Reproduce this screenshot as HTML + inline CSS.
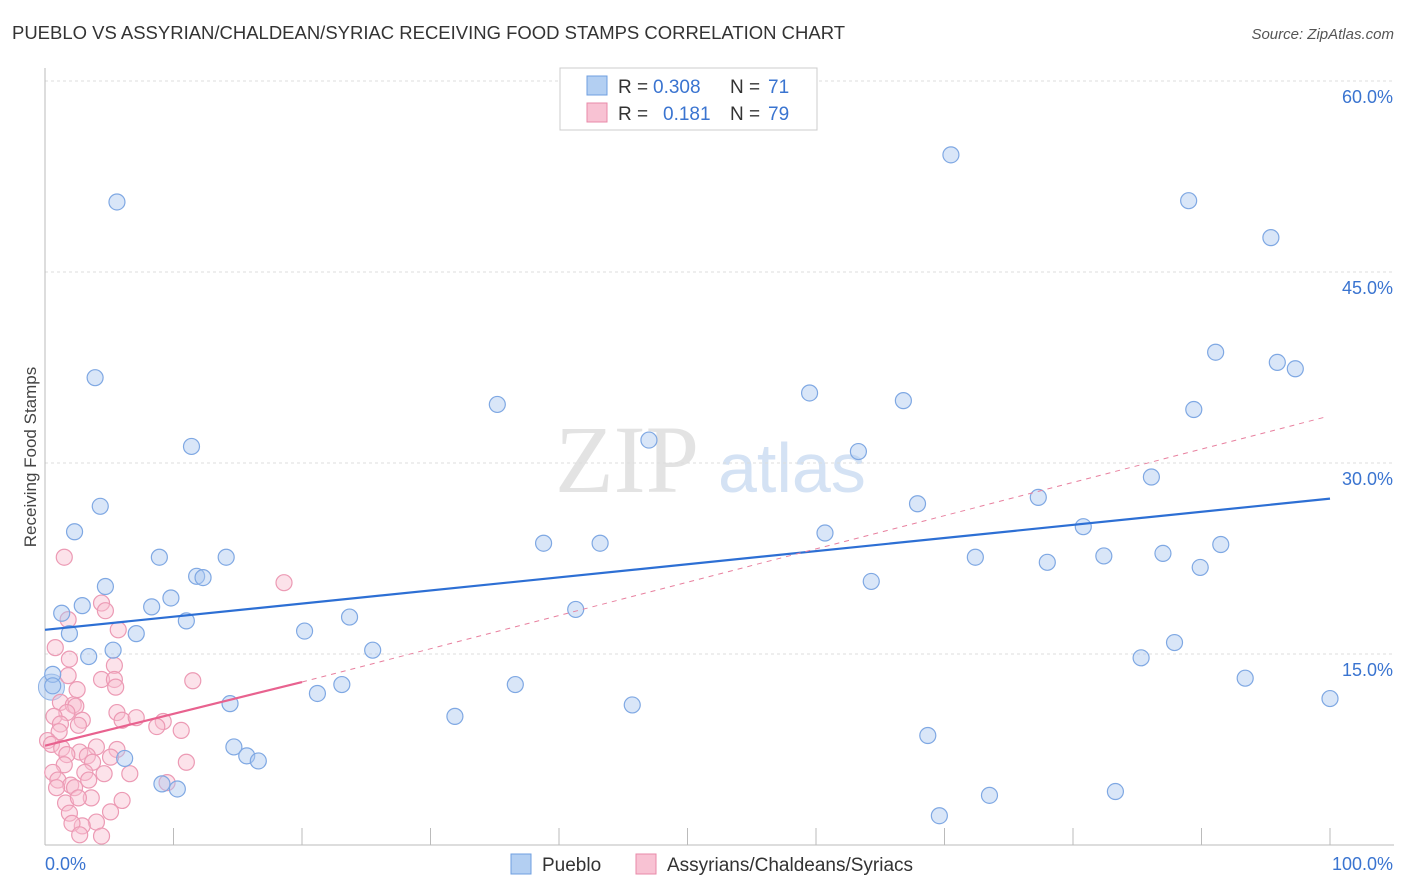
<!DOCTYPE html>
<html><head><meta charset="utf-8">
<style>
body{margin:0;background:#fff;font-family:"Liberation Sans",sans-serif;}
#wrap{position:relative;width:1406px;height:892px;overflow:hidden;}
</style></head>
<body>
<div id="wrap">
<svg id="chart" width="1406" height="892">
<text x="12" y="39" font-size="18" fill="#333" textLength="833" lengthAdjust="spacingAndGlyphs">PUEBLO VS ASSYRIAN/CHALDEAN/SYRIAC RECEIVING FOOD STAMPS CORRELATION CHART</text>
<text x="1394" y="39" font-size="15" fill="#555" font-style="italic" text-anchor="end">Source: ZipAtlas.com</text>
<text x="36" y="457" font-size="17" fill="#444" text-anchor="middle" transform="rotate(-90 36 457)">Receiving Food Stamps</text>
<text x="555" y="492" font-size="96" fill="#e3e3e3" font-family="Liberation Serif,serif">ZIP</text>
<text x="718" y="492" font-size="70" fill="#d4e2f4">atlas</text>
<g id="grid"></g><g id="axes"></g><g id="marks"></g>
<g>
<rect x="560" y="68" width="257" height="62" fill="#fff" stroke="#ccc"/>
<rect x="587" y="76" width="20" height="19" fill="#b3cff2" stroke="#6f9fe0"/>
<text x="618" y="93" font-size="19" fill="#333">R = </text><text x="653" y="93" font-size="19" fill="#3a74d0">0.308</text>
<text x="730" y="93" font-size="19" fill="#333">N = </text><text x="768" y="93" font-size="19" fill="#3a74d0">71</text>
<rect x="587" y="103" width="20" height="19" fill="#f8c2d3" stroke="#e88aa8"/>
<text x="618" y="120" font-size="19" fill="#333">R = </text><text x="663" y="120" font-size="19" fill="#3a74d0">0.181</text>
<text x="730" y="120" font-size="19" fill="#333">N = </text><text x="768" y="120" font-size="19" fill="#3a74d0">79</text>
</g>
<g>
<rect x="511" y="854" width="20" height="20" fill="#b3cff2" stroke="#6f9fe0"/>
<text x="542" y="871" font-size="19" fill="#333">Pueblo</text>
<rect x="636" y="854" width="20" height="20" fill="#f8c2d3" stroke="#e88aa8"/>
<text x="667" y="871" font-size="19" fill="#333">Assyrians/Chaldeans/Syriacs</text>
</g>
</svg>
</div>
<script>
const yTicks=[15,30,45,60];
const yTickLabels=["15.0%","30.0%","45.0%","60.0%"];
const xTicks=[0,10,20,30,40,50,60,70,80,90,100];
const puebloX=[5.6,3.9,11.4,4.3,2.3,8.9,14.1,4.7,11.8,12.3,9.8,8.3,2.9,1.3,11.0,1.9,7.1,3.4,5.3,0.6,0.6,14.4,14.7,15.7,16.6,6.2,9.1,10.3,20.2,23.7,25.5,21.2,23.1,35.2,47.0,38.8,43.2,41.3,36.6,31.9,45.7,70.5,59.5,66.8,63.3,60.7,67.9,64.3,72.4,68.7,69.6,73.5,77.3,78.0,80.8,82.4,83.3,85.3,86.1,87.0,87.9,89.0,89.4,89.9,91.1,91.5,93.4,95.4,95.9,97.3,100];
const puebloY=[50.5,36.7,31.3,26.6,24.6,22.6,22.6,20.3,21.1,21.0,19.4,18.7,18.8,18.2,17.6,16.6,16.6,14.8,15.3,13.4,12.5,11.1,7.7,7.0,6.6,6.8,4.8,4.4,16.8,17.9,15.3,11.9,12.6,34.6,31.8,23.7,23.7,18.5,12.6,10.1,11.0,54.2,35.5,34.9,30.9,24.5,26.8,20.7,22.6,8.6,2.3,3.9,27.3,22.2,25.0,22.7,4.2,14.7,28.9,22.9,15.9,50.6,34.2,21.8,38.7,23.6,13.1,47.7,37.9,37.4,11.5];
const assyrX=[1.5,18.6,4.4,4.7,1.8,5.7,0.8,1.9,5.4,1.8,4.4,5.4,11.5,2.5,5.5,1.2,2.2,2.4,1.7,5.6,0.7,2.9,6.0,7.1,9.2,1.2,2.6,8.7,10.6,1.1,0.2,0.5,1.3,4.0,5.6,2.7,1.7,3.3,5.1,3.7,1.5,11.0,0.6,3.1,4.6,6.6,1.0,3.4,2.0,9.5,2.3,0.9,3.6,1.6,6.0,2.6,5.1,1.9,4.0,2.9,2.1,2.7,4.4];
const assyrY=[22.6,20.6,19.0,18.4,17.7,16.9,15.5,14.6,14.1,13.3,13.0,13.0,12.9,12.2,12.4,11.2,11.0,10.9,10.4,10.4,10.1,9.8,9.8,10.0,9.7,9.5,9.4,9.3,9.0,8.9,8.2,7.9,7.6,7.7,7.5,7.3,7.1,7.0,6.9,6.5,6.3,6.5,5.7,5.7,5.6,5.6,5.1,5.1,4.7,4.9,4.5,4.5,3.7,3.3,3.5,3.7,2.6,2.5,1.8,1.5,1.7,0.8,0.7];
const puebloTrend=[16.9,27.2];
const assyrTrend=[7.8,12.8,33.6];
const NS="http://www.w3.org/2000/svg";
const X=v=>45+v*12.85, Y=v=>845-v*191/15;
function mk(tag,attrs,parent){const e=document.createElementNS(NS,tag);for(const k in attrs)e.setAttribute(k,attrs[k]);parent.appendChild(e);return e;}
const grid=document.getElementById('grid'),axes=document.getElementById('axes'),marks=document.getElementById('marks');
yTicks.forEach((t,i)=>{
 const l=mk('line',{x1:45,x2:1394,y1:Y(t),y2:Y(t),stroke:'#ddd','stroke-dasharray':'3,3'},grid);
 
 
 const tx=mk('text',{x:1393,y:Y(t)+22,'font-size':18,fill:'#3a74d0','text-anchor':'end'},axes);
 tx.textContent=yTickLabels[i];
 
 
});
const xa=mk('line',{x1:45,x2:1394,y1:845,y2:845,stroke:'#bbb'},axes);


const ya=mk('line',{x1:45,x2:45,y1:68,y2:845,stroke:'#bbb'},axes);


xTicks.forEach(t=>{
 const l=mk('line',{x1:X(t),x2:X(t),y1:828,y2:845,stroke:'#bbb'},axes);
 
 
});
const x0=mk('text',{x:45,y:870,'font-size':18,fill:'#3a74d0'},axes);x0.textContent='0.0%';


const x1=mk('text',{x:1393,y:870,'font-size':18,fill:'#3a74d0','text-anchor':'end'},axes);x1.textContent='100.0%';


const big=mk('circle',{cx:X(0.5),cy:Y(12.4),r:13,fill:'rgba(170,200,240,0.5)',stroke:'#8fb3e6'},marks);


assyrX.forEach((v,i)=>{
 const c=mk('circle',{cx:X(v),cy:Y(assyrY[i]),r:8,fill:'rgba(248,190,208,0.45)',stroke:'#ec9ab4','stroke-width':1.2},marks);
 
 
});
puebloX.forEach((v,i)=>{
 const c=mk('circle',{cx:X(v),cy:Y(puebloY[i]),r:8,fill:'rgba(170,200,240,0.45)',stroke:'#7fa8e3','stroke-width':1.2},marks);
 
 
});
const pl=mk('line',{x1:X(0),y1:Y(puebloTrend[0]),x2:X(100),y2:Y(puebloTrend[1]),stroke:'#2d6fd4','stroke-width':2.2},marks);


const ad=mk('line',{x1:X(20),y1:Y(assyrTrend[1]),x2:X(99.6),y2:Y(assyrTrend[2]),stroke:'#e8809f','stroke-width':1,'stroke-dasharray':'5,5'},marks);


const al=mk('line',{x1:X(0),y1:Y(assyrTrend[0]),x2:X(20),y2:Y(assyrTrend[1]),stroke:'#e8628f','stroke-width':2.2},marks);


</script>
</body></html>
